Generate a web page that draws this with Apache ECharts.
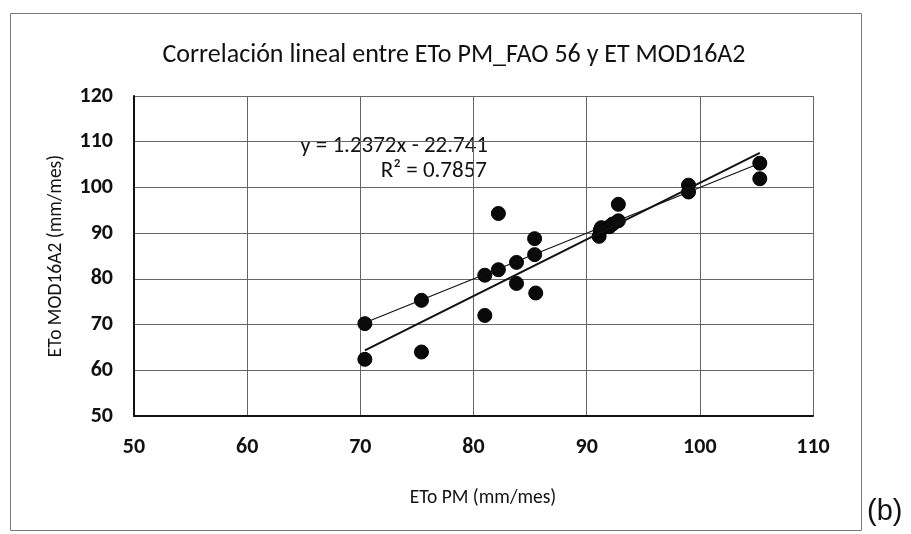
<!DOCTYPE html>
<html>
<head>
<meta charset="utf-8">
<script src="https://cdn.jsdelivr.net/npm/echarts@6/dist/echarts.min.js"></script>
<style>
html,body{margin:0;padding:0;background:#fff;}
#chart{width:911px;height:534px;}
</style>
</head>
<body>
<div id="chart"></div>
<script>
// ETo PM_FAO 56 (x) vs ET MOD16A2 (y), mm/mes
const etoPM = [70.4, 70.4, 75.4, 75.4, 81.0, 81.0, 82.2, 82.2, 83.8, 83.8, 85.4, 85.4, 85.5,
               91.1, 91.2, 91.3, 92.0, 92.3, 92.8, 92.8, 99.0, 99.0, 105.3, 105.3];
const etMOD = [70.2, 62.4, 75.3, 64.0, 80.8, 72.0, 82.0, 94.3, 83.6, 79.0, 88.8, 85.3, 76.9,
               89.3, 90.6, 91.2, 91.4, 92.0, 92.7, 96.3, 100.5, 99.0, 105.3, 101.9];
const regSlope = 1.2372;
const regIntercept = -22.741;
const regR2 = 0.7857;
const lineXRange = [70.4, 105.3];
const xTicks = [50, 60, 70, 80, 90, 100, 110];
const yTicks = [50, 60, 70, 80, 90, 100, 110, 120];

const pts = etoPM.map((x, i) => [x, etMOD[i]]);
const regLine = lineXRange.map(x => [x, regSlope * x + regIntercept]);
const oneToOne = lineXRange.map(x => [x, x]);

const FONT = 'Carlito, Lato, "Open Sans", sans-serif';
const chart = echarts.init(document.getElementById('chart'), null, {renderer: 'canvas'});
chart.setOption({
  backgroundColor: '#fff',
  animation: false,
  title: {
    text: 'Correlación lineal entre ETo PM_FAO 56 y ET MOD16A2',
    left: 449, top: 37, textAlign: 'center',
    textStyle: {fontFamily: FONT, fontSize: 26, fontWeight: 'normal', color: '#111'}
  },
  grid: {left: 134, right: 98, top: 96, bottom: 118, containLabel: false},
  xAxis: {
    type: 'value', min: xTicks[0], max: xTicks[xTicks.length - 1], interval: 10,
    name: 'ETo PM (mm/mes)', nameLocation: 'middle', nameGap: 72,
    nameTextStyle: {fontFamily: FONT, fontSize: 19.5, color: '#111', padding: [0, 0, 0, 19]},
    axisLine: {show: true, lineStyle: {color: '#111', width: 2}},
    axisTick: {show: false},
    axisLabel: {fontFamily: FONT, fontSize: 22, color: '#111', margin: 20, fontWeight: 'bold'},
    splitLine: {show: true, lineStyle: {color: '#666', width: 1}}
  },
  yAxis: {
    type: 'value', min: yTicks[0], max: yTicks[yTicks.length - 1], interval: 10,
    name: 'ETo MOD16A2 (mm/mes)', nameLocation: 'middle', nameGap: 68,
    nameTextStyle: {fontFamily: FONT, fontSize: 19.5, color: '#111'},
    axisLine: {show: true, lineStyle: {color: '#111', width: 2}},
    axisTick: {show: false},
    axisLabel: {fontFamily: FONT, fontSize: 22, color: '#111', margin: 21, fontWeight: 'bold'},
    splitLine: {show: true, lineStyle: {color: '#666', width: 1}}
  },
  series: [
    {
      type: 'scatter', data: pts, symbol: 'circle', symbolSize: 14, z: 2,
      itemStyle: {color: '#0a0a0a', borderColor: '#000', borderWidth: 1, opacity: 1}
    },
    {
      type: 'line', data: oneToOne, symbol: 'none', z: 3,
      lineStyle: {color: '#111', width: 1.2}
    },
    {
      type: 'line', data: regLine, symbol: 'none', z: 3,
      lineStyle: {color: '#111', width: 2}
    }
  ],
  graphic: [
    {
      type: 'rect', left: 8, top: 11, z: -1, silent: true,
      shape: {width: 851, height: 517},
      style: {fill: 'none', stroke: '#777', lineWidth: 1}
    },
    {
      type: 'text', x: 488, y: 146,
      style: {text: 'y = ' + regSlope + 'x - ' + Math.abs(regIntercept), font: '23px ' + FONT, fill: '#111',
              align: 'right', verticalAlign: 'middle', textAlign: 'right', textVerticalAlign: 'middle'}
    },
    {
      type: 'text', x: 487, y: 171,
      style: {text: 'R² = ' + regR2, font: '23px ' + FONT, fill: '#111',
              align: 'right', verticalAlign: 'middle', textAlign: 'right', textVerticalAlign: 'middle'}
    },
    {
      type: 'text', left: 867, top: 497,
      style: {text: '(b)', font: '29px "Liberation Sans", Arial, sans-serif', fill: '#111'}
    }
  ]
});
</script>
</body>
</html>
